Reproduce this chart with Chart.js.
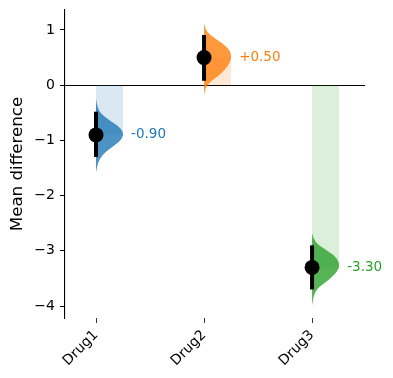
<!DOCTYPE html>
<html><head><meta charset="utf-8">
<script src="https://cdn.jsdelivr.net/npm/chart.js@4"></script>
<style>html,body{margin:0;padding:0;background:#fff}</style>
</head><body>
<canvas id="c" width="393" height="378"></canvas>
<script>
// ---- data ----
const categories = ['Drug1', 'Drug2', 'Drug3'];
const meanDifferences = [-0.90, 0.50, -3.30];
const ciLower = [-1.30, 0.08, -3.70];
const ciUpper = [-0.48, 0.91, -2.90];
const valueLabels = ['-0.90', '+0.50', '-3.30'];
const yTickValues = [-4, -3, -2, -1, 0, 1];

const drug1ViolinValues = [-0.25,-0.33,-0.41,-0.48,-0.54,-0.60,-0.66,-0.72,-0.78,-0.84,-0.90,-0.96,-1.02,-1.08,-1.14,-1.20,-1.27,-1.34,-1.42,-1.50,-1.58];
const drug1ViolinDensity = [0,0.03,0.07,0.14,0.25,0.40,0.58,0.76,0.90,0.98,1.0,0.96,0.86,0.71,0.54,0.38,0.24,0.14,0.07,0.03,0];
const drug2ViolinValues = [1.12,1.04,0.97,0.91,0.85,0.79,0.73,0.67,0.61,0.55,0.49,0.43,0.37,0.31,0.25,0.19,0.13,0.07,0.01,-0.07,-0.18];
const drug2ViolinDensity = [0,0.04,0.12,0.24,0.40,0.58,0.75,0.88,0.96,1.0,1.0,0.96,0.90,0.82,0.70,0.58,0.42,0.26,0.14,0.05,0];
const drug3ViolinValues = [-2.68,-2.76,-2.84,-2.90,-2.96,-3.02,-3.08,-3.14,-3.20,-3.26,-3.32,-3.38,-3.44,-3.50,-3.56,-3.62,-3.68,-3.75,-3.83,-3.91,-3.99];
const drug3ViolinDensity = [0,0.05,0.14,0.26,0.44,0.63,0.80,0.91,0.98,1.0,0.98,0.91,0.81,0.67,0.52,0.36,0.22,0.12,0.06,0.03,0];

// ---- styling ----
const colors = ['#1f77b4', '#ff7f0e', '#2ca02c'];
const violinAlpha = ['rgba(31,119,180,0.8)', 'rgba(255,127,14,0.8)', 'rgba(44,160,44,0.8)'];
const shadeAlpha = ['rgba(31,119,180,0.17)', 'rgba(255,127,14,0.17)', 'rgba(44,160,44,0.17)'];
const HALF_WIDTH = 0.25;
const LABEL_OFFSET = 0.325;

const violinValues = [drug1ViolinValues, drug2ViolinValues, drug3ViolinValues];
const violinDensity = [drug1ViolinDensity, drug2ViolinDensity, drug3ViolinDensity];

Chart.defaults.font.family = '"DejaVu Sans", sans-serif';
Chart.defaults.color = '#000';

const datasets = [];
// dots (top)
datasets.push({
  data: meanDifferences.map((m, i) => ({x: i, y: m})),
  showLine: false, pointRadius: 7.5, pointBackgroundColor: '#000', pointBorderWidth: 0,
  borderColor: '#000', order: 0
});
// CI lines
meanDifferences.forEach((m, i) => {
  datasets.push({
    data: [{x: i, y: ciLower[i]}, {x: i, y: ciUpper[i]}],
    borderColor: '#000', borderWidth: 4, pointRadius: 0, borderCapStyle: 'butt', fill: false, order: 1
  });
});
// violins
violinValues.forEach((vals, i) => {
  const pts = vals.map((v, k) => ({x: i + HALF_WIDTH * violinDensity[i][k], y: v}));
  pts.push({x: i, y: vals[0]});
  datasets.push({
    data: pts, borderWidth: 0, borderColor: 'rgba(0,0,0,0)', backgroundColor: violinAlpha[i],
    pointRadius: 0, fill: 'shape', tension: 0, order: 2
  });
});
// shaded rects from 0 to mean
meanDifferences.forEach((m, i) => {
  datasets.push({
    data: [{x: i, y: m}, {x: i + HALF_WIDTH, y: m}],
    borderWidth: 0, borderColor: 'rgba(0,0,0,0)', backgroundColor: shadeAlpha[i],
    pointRadius: 0, fill: 'origin', order: 3
  });
});

const labelPlugin = {
  id: 'valueLabels',
  afterDatasetsDraw(chart) {
    const {ctx, scales: {x, y}} = chart;
    ctx.save();
    ctx.font = '13.5px "DejaVu Sans"';
    ctx.textBaseline = 'middle';
    ctx.textAlign = 'left';
    meanDifferences.forEach((m, i) => {
      ctx.fillStyle = colors[i];
      ctx.fillText(valueLabels[i], x.getPixelForValue(i + LABEL_OFFSET), y.getPixelForValue(m));
    });
    ctx.restore();
  }
};

new Chart(document.getElementById('c'), {
  type: 'line',
  data: {datasets},
  plugins: [labelPlugin],
  options: {
    responsive: false, animation: false,
    layout: {padding: {left: 0, right: 28, top: 10, bottom: 0}},
    plugins: {legend: {display: false}, tooltip: {enabled: false}},
    scales: {
      x: {
        type: 'linear', min: -0.287, max: 2.49,
        afterBuildTicks: s => { s.ticks = categories.map((c, i) => ({value: i})); },
        afterFit: s => { s.height = 60; s.paddingLeft = 0; s.paddingRight = 0; },
        ticks: {callback: v => categories[v], minRotation: 45, maxRotation: 45, autoSkip: false,
                color: '#000', font: {size: 14}, padding: 4},
        grid: {drawOnChartArea: false, tickLength: 5, tickColor: '#000', tickWidth: 0.8},
        border: {display: false}
      },
      y: {
        min: -4.217, max: 1.362,
        afterBuildTicks: s => { s.ticks = yTickValues.map(v => ({value: v})); },
        afterFit: s => { s.width = 65; s.paddingTop = 0; s.paddingBottom = 0; },
        ticks: {callback: v => v < 0 ? '\u2212' + Math.abs(v) : String(v), color: '#000', font: {size: 14}, padding: 5},
        grid: {color: c => (c.tick && c.tick.value === 0) ? '#000' : 'rgba(0,0,0,0)', lineWidth: 1,
               tickLength: 5, tickColor: '#000', tickWidth: 1},
        border: {display: true, color: '#000', width: 1.1},
        title: {display: true, text: 'Mean difference', color: '#000', font: {size: 16.7}, padding: {top: 8, bottom: 0}}
      }
    }
  }
});
</script>
</body></html>
